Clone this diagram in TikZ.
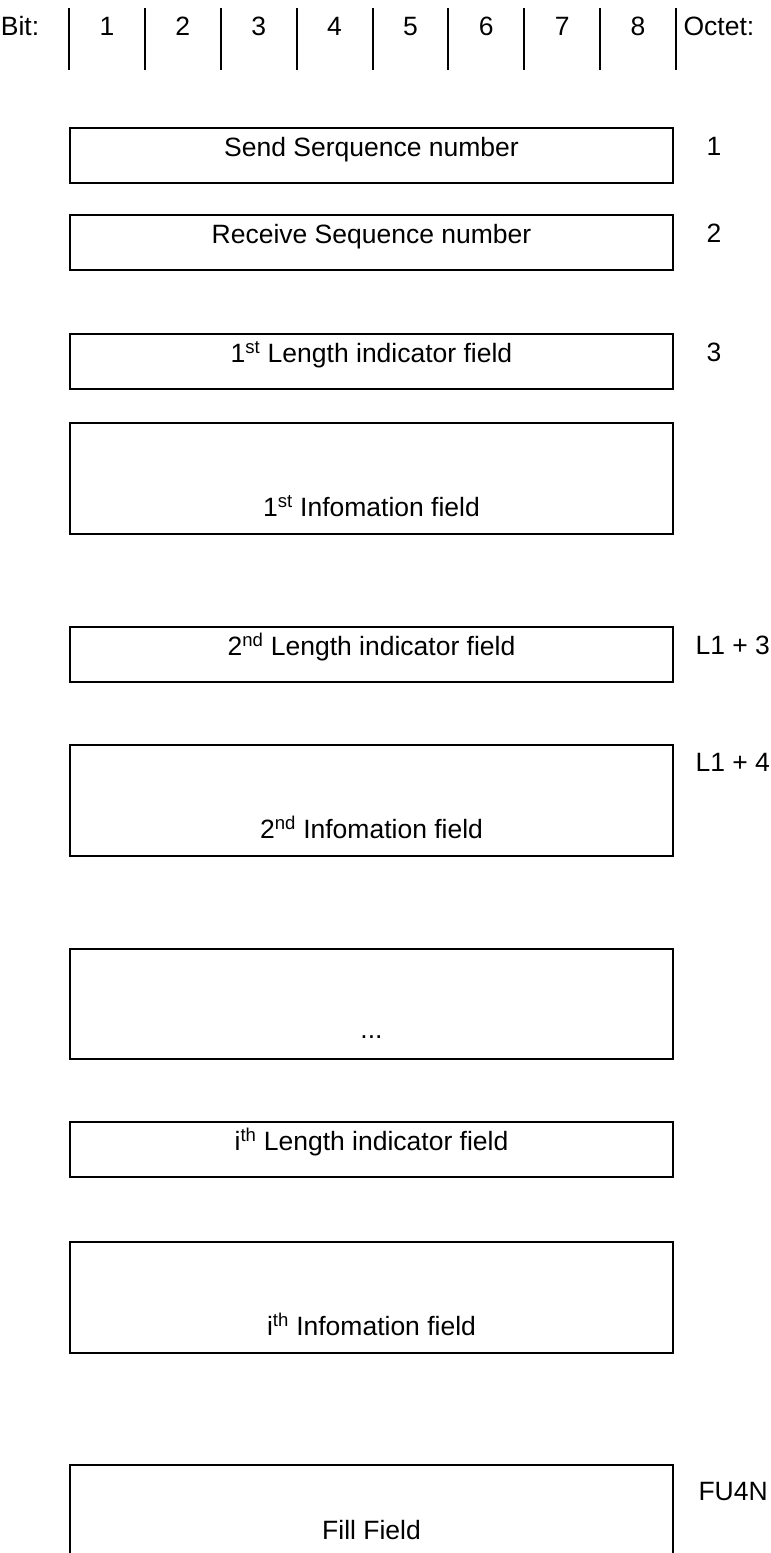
\documentclass[tikz,border=0pt]{standalone}
\usepackage{fontspec}
\setmainfont{Liberation Sans}

\begin{document}
\begin{tikzpicture}[x=1pt,y=-1pt,
  font=\fontsize{26.5}{31}\selectfont,
  field/.style={draw=black,line width=2pt,anchor=north west,inner sep=0pt,minimum width=603pt},
  shortfield/.style={field,text height=28.5pt,text depth=26.5pt},
  tallfield/.style={field,text height=93.5pt,text depth=17.5pt},
  octet/.style={anchor=base west},
  bitsep/.style={line width=2pt}
]
\clip (0,0) rectangle (771,1553);

% header row
\node[anchor=base] (bit) at (20,35.5) {Bit:};
\foreach \i in {0,...,8}
  \draw[bitsep] ({69+75.875*\i},8) -- ({69+75.875*\i},70);
\foreach \i in {1,...,8}
  \node[anchor=base] (b\i) at ({69+75.875*(\i-0.5)},35.5) {\i};
\node[anchor=base west] (octet) at (680,35.5) {Octet:};

% fields
\node[shortfield] (send) at (69,127) {Send Serquence number};
\node[shortfield] (recv) at (69,214) {Receive Sequence number};
\node[shortfield] (len1) at (69,333) {1\textsuperscript{st} Length indicator field};
\node[tallfield] (info1) at (69,422) {1\textsuperscript{st} Infomation field};
\node[shortfield] (len2) at (69,626) {2\textsuperscript{nd} Length indicator field};
\node[tallfield] (info2) at (69,744) {2\textsuperscript{nd} Infomation field};
\node[tallfield,text height=89pt,text depth=21pt] (dots) at (69,948) {...};
\node[shortfield] (leni) at (69,1121) {i\textsuperscript{th} Length indicator field};
\node[tallfield] (infoi) at (69,1241) {i\textsuperscript{th} Infomation field};
\node[tallfield,text height=74.5pt,text depth=40pt] (fill) at (69,1464) {Fill Field};

% octet numbers
\node[octet] (o1) at (703,155.5) {1};
\node[octet] (o2) at (703,242.5) {2};
\node[octet] (o3) at (703,361.5) {3};
\node[octet] (o4) at (692,654.5) {L1 + 3};
\node[octet] (o5) at (692,771.5) {L1 + 4};
\node[octet] (o6) at (695,1500.5) {FU4N};
\end{tikzpicture}
\end{document}
